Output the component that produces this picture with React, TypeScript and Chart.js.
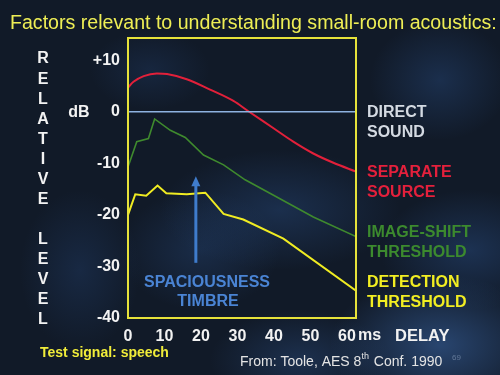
import React, { useEffect, useRef } from "react";
import { Chart, registerables } from "chart.js";

Chart.register(...registerables);

// ---- data ----
const xTickValues = [0, 10, 20, 30, 40, 50, 60];
const yTickValues = [10, 0, -10, -20, -30, -40];
const xMin = 0;
const xMax = 62.5;
const yMin = -40;
const yMax = 14.3;

const directX = [0, 62.5];
const directY = [0, 0];

const separateX = [0, 1.5, 4.3, 7.9, 10.7, 16.1, 22.5, 28.9, 33.0, 39.9, 45.3, 50.8, 56.3, 62.5];
const separateY = [4.7, 5.8, 6.9, 7.4, 7.3, 6.3, 4.3, 2.1, 0.1, -3.2, -5.8, -8.1, -9.9, -11.6];

const imageShiftX = [0, 2.4, 5.6, 7.3, 11.6, 15.7, 20.7, 26.2, 32.1, 39.9, 50.8, 62.5];
const imageShiftY = [-10.7, -5.8, -5.2, -1.4, -3.6, -5.0, -8.4, -10.3, -13.2, -16.2, -20.4, -24.2];

const detectionX = [0, 2.0, 5.0, 8.1, 10.5, 16.1, 21.2, 26.2, 31.6, 42.6, 62.5];
const detectionY = [-20.0, -16.0, -16.3, -14.3, -15.8, -16.0, -15.7, -19.8, -20.9, -24.6, -34.7];

const arrowX = 18.6;
const arrowFromY = -29.3;
const arrowToY = -12.5;

const toPoints = (xs: number[], ys: number[]) => xs.map((x, i) => ({ x, y: ys[i] }));

const FONT = '"Liberation Sans", Arial, sans-serif';

const overlayPlugin = {
  id: "overlay",
  afterDatasetsDraw(chart: any) {
    const { ctx, chartArea, scales } = chart;
    ctx.save();
    // yellow frame
    ctx.strokeStyle = "#e6e23a";
    ctx.lineWidth = 2;
    ctx.strokeRect(chartArea.left, chartArea.top, chartArea.right - chartArea.left, chartArea.bottom - chartArea.top);
    // arrow
    const ax = scales.x.getPixelForValue(arrowX);
    const y1 = scales.y.getPixelForValue(arrowFromY);
    const y2 = scales.y.getPixelForValue(arrowToY);
    ctx.strokeStyle = "#3f7ccc";
    ctx.fillStyle = "#3f7ccc";
    ctx.lineWidth = 3;
    ctx.beginPath();
    ctx.moveTo(ax, y1);
    ctx.lineTo(ax, y2 + 8);
    ctx.stroke();
    ctx.beginPath();
    ctx.moveTo(ax, y2);
    ctx.lineTo(ax - 4.5, y2 + 10);
    ctx.lineTo(ax + 4.5, y2 + 10);
    ctx.closePath();
    ctx.fill();
    ctx.restore();
  },
  afterDraw(chart: any) {
    const { ctx } = chart;
    ctx.save();
    ctx.textBaseline = "middle";
    // title
    ctx.fillStyle = "#eeee55";
    ctx.font = `19.6px ${FONT}`;
    ctx.textAlign = "left";
    ctx.fillText("Factors relevant to understanding small-room acoustics:", 10, 24);

    // vertical axis caption
    ctx.fillStyle = "#f2f2f2";
    ctx.font = `bold 16px ${FONT}`;
    ctx.textAlign = "center";
    const word1 = "RELATIVE".split("");
    const word2 = "LEVEL".split("");
    word1.forEach((c, i) => ctx.fillText(c, 43, 59 + i * 20.1));
    word2.forEach((c, i) => ctx.fillText(c, 43, 240 + i * 20));
    ctx.fillText("dB", 79, 113);

    // x caption
    ctx.textAlign = "left";
    ctx.fillText("ms", 358, 336);
    ctx.font = `bold 16.5px ${FONT}`;
    ctx.fillText("DELAY", 395, 336);

    // series labels
    ctx.font = `bold 16px ${FONT}`;
    const labels: [string, string, string, number][] = [
      ["DIRECT", "SOUND", "#d4dae2", 113],
      ["SEPARATE", "SOURCE", "#e4203c", 173],
      ["IMAGE-SHIFT", "THRESHOLD", "#3c8a2e", 233],
      ["DETECTION", "THRESHOLD", "#f2ee22", 283],
    ];
    labels.forEach(([a, b, col, y]) => {
      ctx.fillStyle = col;
      ctx.fillText(a, 367, y);
      ctx.fillText(b, 367, y + 20);
    });

    // spaciousness
    ctx.fillStyle = "#4a84d4";
    ctx.textAlign = "center";
    ctx.fillText("SPACIOUSNESS", 207, 283);
    ctx.fillText("TIMBRE", 208, 302);

    // footer
    ctx.textAlign = "left";
    ctx.fillStyle = "#f0ec3a";
    ctx.font = `bold 14px ${FONT}`;
    ctx.fillText("Test signal: speech", 40, 353);

    ctx.fillStyle = "#e4e4e4";
    ctx.font = `14px ${FONT}`;
    let x = 240;
    const p1 = "From: Toole, AES 8";
    ctx.fillText(p1, x, 362);
    x += ctx.measureText(p1).width;
    ctx.font = `9px ${FONT}`;
    ctx.fillText("th", x, 357);
    x += ctx.measureText("th").width + 1;
    ctx.font = `14px ${FONT}`;
    ctx.fillText(" Conf. 1990", x, 362);

    ctx.fillStyle = "rgba(140,160,190,0.6)";
    ctx.font = `8px ${FONT}`;
    ctx.fillText("69", 452, 358);
    ctx.restore();
  },
};

export default function App() {
  const canvasRef = useRef<HTMLCanvasElement | null>(null);

  useEffect(() => {
    document.body.style.margin = "0";
    const canvas = canvasRef.current;
    if (!canvas) return;
    const chart = new Chart(canvas, {
      type: "line",
      data: {
        datasets: [
          {
            label: "DIRECT SOUND",
            data: toPoints(directX, directY),
            borderColor: "#8eb2e0",
            borderWidth: 1.5,
            pointRadius: 0,
          },
          {
            label: "SEPARATE SOURCE",
            data: toPoints(separateX, separateY),
            borderColor: "#e2203a",
            borderWidth: 2,
            pointRadius: 0,
            tension: 0.4,
            cubicInterpolationMode: "monotone",
          },
          {
            label: "IMAGE-SHIFT THRESHOLD",
            data: toPoints(imageShiftX, imageShiftY),
            borderColor: "#3f8a2e",
            borderWidth: 1.6,
            pointRadius: 0,
            tension: 0,
          },
          {
            label: "DETECTION THRESHOLD",
            data: toPoints(detectionX, detectionY),
            borderColor: "#f0ec22",
            borderWidth: 2,
            pointRadius: 0,
            tension: 0,
          },
        ],
      },
      options: {
        animation: false,
        responsive: false,
        devicePixelRatio: 1,
        layout: { padding: { left: 0, right: 144, top: 38, bottom: 27 } },
        plugins: { legend: { display: false }, tooltip: { enabled: false } },
        scales: {
          x: {
            type: "linear",
            min: xMin,
            max: xMax,
            grid: { display: false, drawTicks: false },
            border: { display: false },
            afterBuildTicks: (scale: any) => {
              scale.ticks = xTickValues.map((v) => ({ value: v }));
            },
            afterFit: (scale: any) => {
              scale.height = 30;
            },
            ticks: {
              color: "#f2f2f2",
              font: { family: FONT, size: 16, weight: "bold" },
              padding: 9,
              maxRotation: 0,
              autoSkip: false,
            },
          },
          y: {
            type: "linear",
            min: yMin,
            max: yMax,
            grid: { display: false, drawTicks: false },
            border: { display: false },
            afterBuildTicks: (scale: any) => {
              scale.ticks = yTickValues.map((v) => ({ value: v }));
            },
            afterFit: (scale: any) => {
              scale.width = 128;
            },
            ticks: {
              color: "#f2f2f2",
              font: { family: FONT, size: 16, weight: "bold" },
              padding: 8,
              autoSkip: false,
              callback: (v: any) => (Number(v) > 0 ? `+${v}` : `${v}`),
            },
          },
        },
      },
      plugins: [overlayPlugin],
    });
    return () => chart.destroy();
  }, []);

  const bg = [
    "radial-gradient(ellipse 110px 70px at 440px 345px, rgba(60,105,170,0.55), transparent)",
    "radial-gradient(ellipse 90px 60px at 470px 250px, rgba(45,85,145,0.4), transparent)",
    "radial-gradient(ellipse 120px 60px at 280px 210px, rgba(45,85,145,0.35), transparent)",
    "radial-gradient(ellipse 80px 60px at 200px 250px, rgba(45,85,145,0.3), transparent)",
    "radial-gradient(ellipse 90px 50px at 300px 360px, rgba(50,90,150,0.35), transparent)",
    "radial-gradient(ellipse 70px 60px at 440px 80px, rgba(45,85,145,0.35), transparent)",
    "radial-gradient(ellipse 60px 80px at 80px 270px, rgba(40,75,130,0.3), transparent)",
    "radial-gradient(ellipse 60px 40px at 150px 70px, rgba(40,75,130,0.25), transparent)",
    "#111a28",
  ].join(", ");

  return (
    <div style={{ position: "absolute", left: 0, top: 0, width: 500, height: 375, background: bg }}>
      <canvas ref={canvasRef} width={500} height={375} style={{ display: "block" }} />
    </div>
  );
}
